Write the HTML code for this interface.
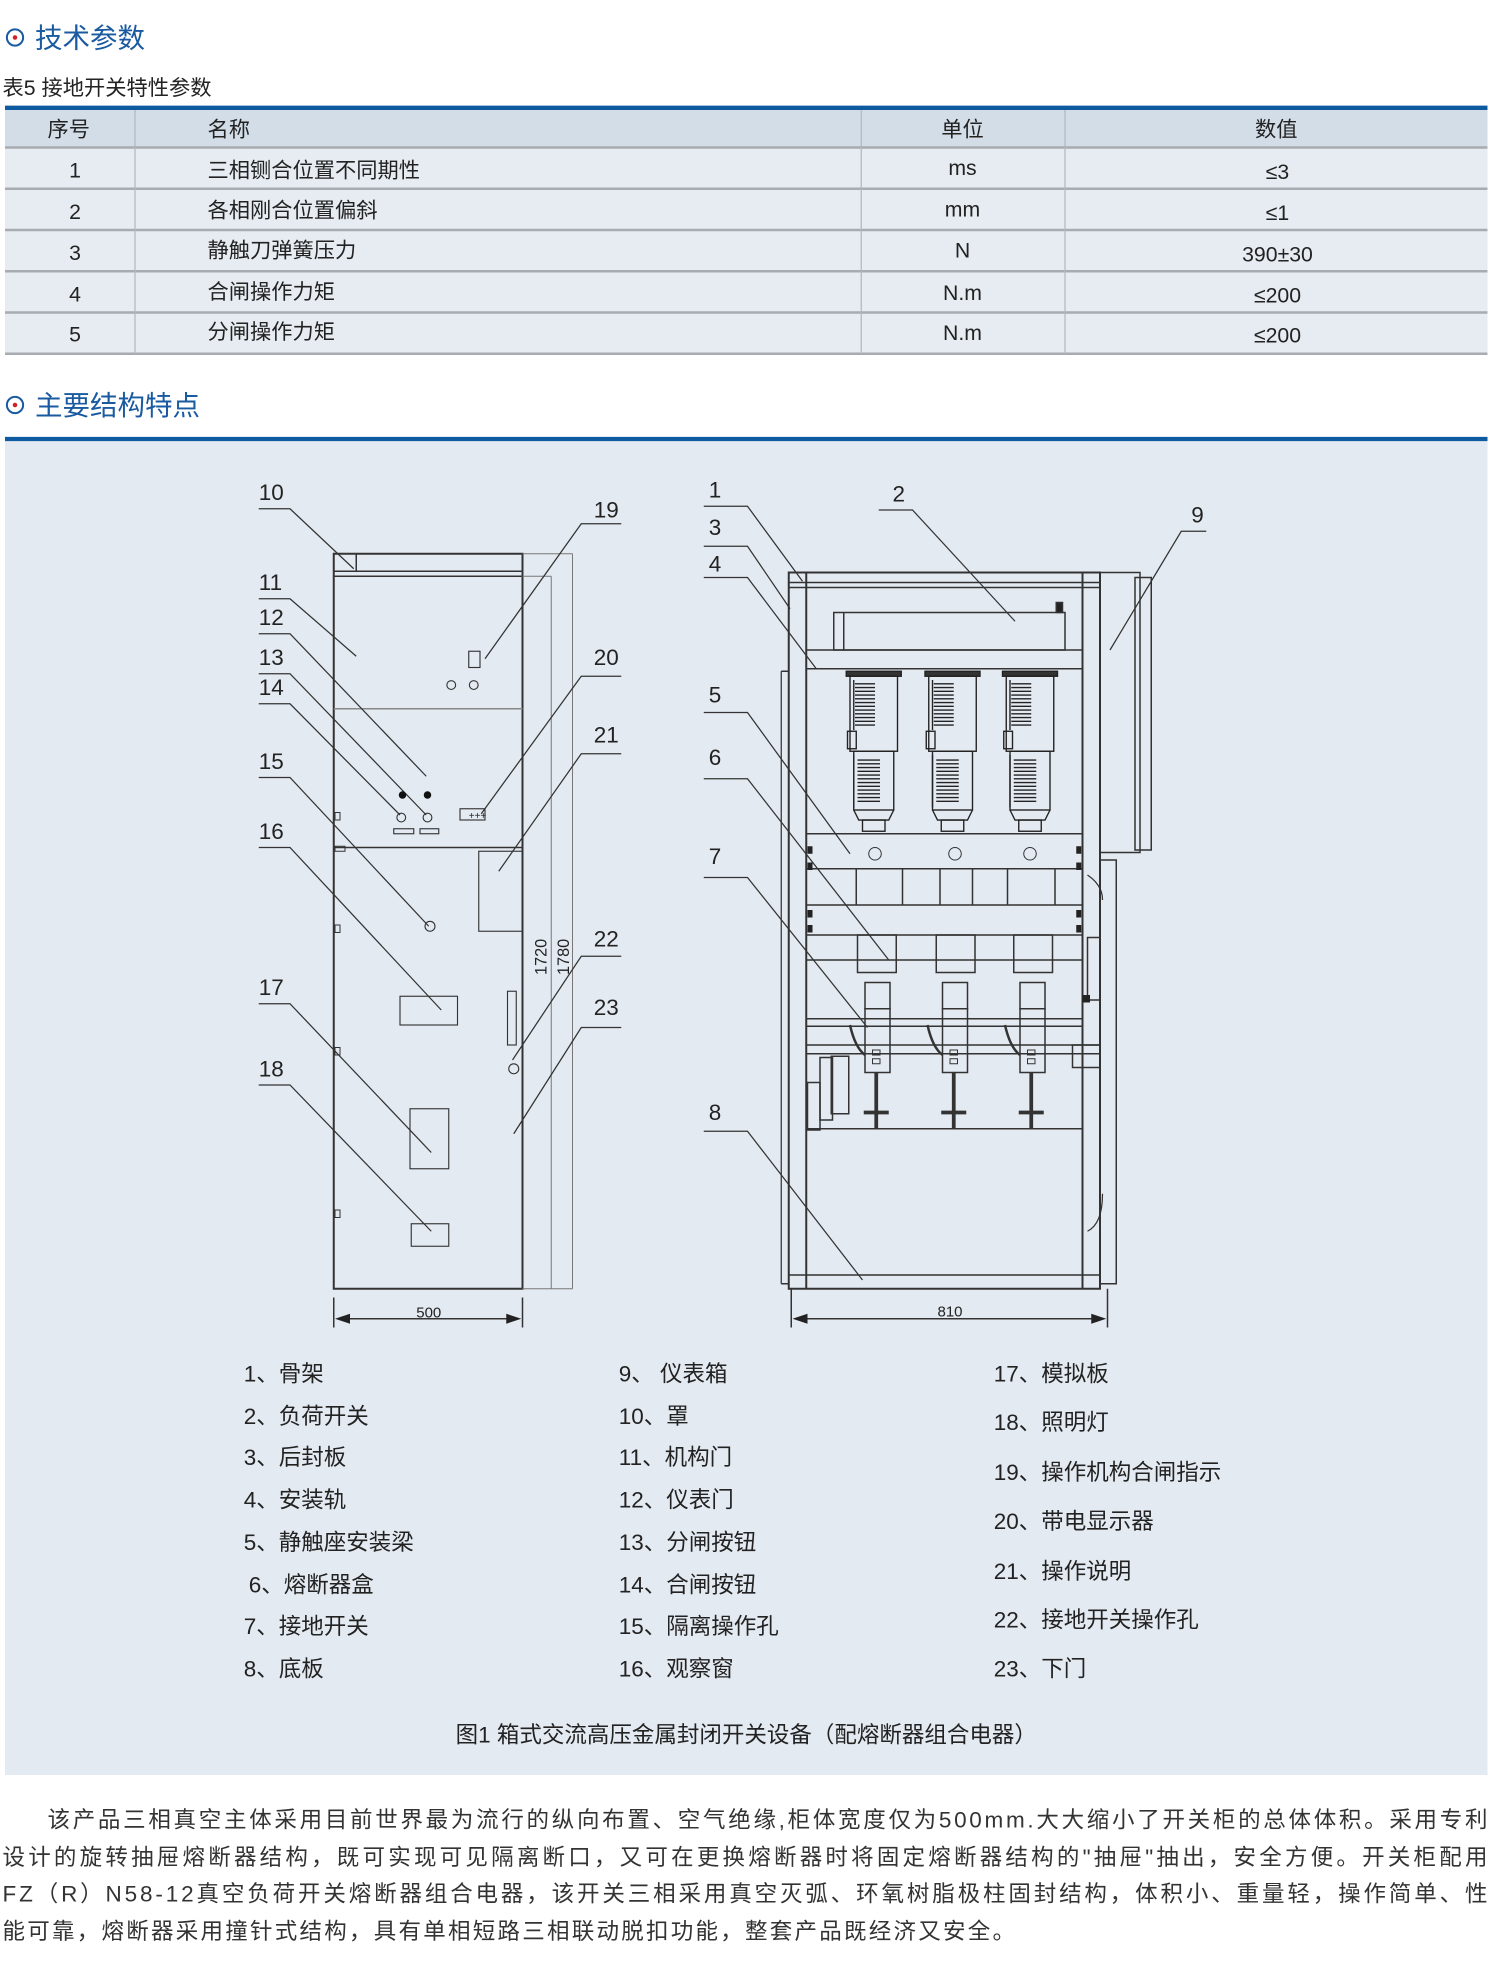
<!DOCTYPE html>
<html><head><meta charset="utf-8"><style>
html,body{margin:0;padding:0;background:#fff;}
svg{display:block;}
text{font-family:"Liberation Sans","Noto Sans CJK SC",sans-serif;}
</style></head><body>
<svg width="1500" height="1972" viewBox="0 0 1200 1577.6" xmlns="http://www.w3.org/2000/svg">
<rect width="1200" height="1578" fill="#fff"/>
<!-- titles -->
<circle cx="12" cy="30" r="6.5" fill="none" stroke="#1a5aa0" stroke-width="1.6"/><circle cx="12" cy="30" r="1.8" fill="#d02020"/>
<text x="28" y="38" font-size="22" fill="#1a5aa0">技术参数</text>
<text x="2" y="76" font-size="17" fill="#222">表5  接地开关特性参数</text>
<!-- table -->
<rect x="4" y="84.5" width="1186" height="3.5" fill="#0e5aa0"/>
<rect x="4" y="88" width="1186" height="30" fill="#d2dde7"/>
<rect x="4" y="118" width="1186" height="165" fill="#e6ecf2"/>
<g stroke="#a8acb0" stroke-width="2"><line x1="4" y1="118" x2="1190" y2="118"/><line x1="4" y1="151" x2="1190" y2="151"/><line x1="4" y1="184" x2="1190" y2="184"/><line x1="4" y1="217" x2="1190" y2="217"/><line x1="4" y1="250" x2="1190" y2="250"/><line x1="4" y1="283" x2="1190" y2="283"/></g>
<g stroke="#b4b8bc" stroke-width="1"><line x1="108" y1="88" x2="108" y2="283"/><line x1="689" y1="88" x2="689" y2="283"/><line x1="852" y1="88" x2="852" y2="283"/></g>
<g font-size="17" fill="#222">
<text x="55" y="109" text-anchor="middle">序号</text><text x="166" y="109">名称</text><text x="770" y="109" text-anchor="middle">单位</text><text x="1021" y="109" text-anchor="middle">数值</text>
<text x="60" y="142" text-anchor="middle">1</text><text x="166" y="142">三相铡合位置不同期性</text><text x="770" y="140" text-anchor="middle">ms</text><text x="1022" y="143" text-anchor="middle">≤3</text>
<text x="60" y="175" text-anchor="middle">2</text><text x="166" y="174">各相刚合位置偏斜</text><text x="770" y="173" text-anchor="middle">mm</text><text x="1022" y="176" text-anchor="middle">≤1</text>
<text x="60" y="208" text-anchor="middle">3</text><text x="166" y="206">静触刀弹簧压力</text><text x="770" y="206" text-anchor="middle">N</text><text x="1022" y="209" text-anchor="middle">390±30</text>
<text x="60" y="241" text-anchor="middle">4</text><text x="166" y="239">合闸操作力矩</text><text x="770" y="240" text-anchor="middle">N.m</text><text x="1022" y="242" text-anchor="middle">≤200</text>
<text x="60" y="273" text-anchor="middle">5</text><text x="166" y="271">分闸操作力矩</text><text x="770" y="272" text-anchor="middle">N.m</text><text x="1022" y="274" text-anchor="middle">≤200</text>
</g>
<circle cx="12" cy="324" r="6.5" fill="none" stroke="#1a5aa0" stroke-width="1.6"/><circle cx="12" cy="324" r="1.8" fill="#d02020"/>
<text x="28" y="332" font-size="22" fill="#1a5aa0">主要结构特点</text>
<rect x="4" y="349.5" width="1186" height="3.5" fill="#0e5aa0"/>
<!-- diagram panel -->
<rect x="4" y="353" width="1186" height="1067" fill="#e4eaf1"/>

<g fill="none" stroke="#333" stroke-width="1.2">
<!-- LEFT CABINET -->
<rect x="267" y="443" width="151" height="588" stroke-width="1.6"/>
<line x1="267" y1="457" x2="418" y2="457"/><line x1="267" y1="461" x2="418" y2="461"/>
<line x1="285" y1="443" x2="285" y2="457"/>
<line x1="267" y1="567" x2="418" y2="567" stroke="#888"/>
<line x1="267" y1="678" x2="418" y2="678"/>
<g stroke="#777" stroke-width="0.8">
<line x1="418" y1="443" x2="458" y2="443"/><line x1="418" y1="461" x2="441" y2="461"/>
<line x1="441" y1="461" x2="441" y2="1031"/><line x1="458" y1="443" x2="458" y2="1031"/>
<line x1="418" y1="1031" x2="458" y2="1031"/>
</g>
<g stroke-width="0.8"><rect x="268" y="650" width="4" height="6"/><rect x="268" y="740" width="4" height="6"/><rect x="268" y="838" width="4" height="6"/><rect x="268" y="968" width="4" height="6"/><rect x="268" y="677" width="8" height="4"/></g>
<rect x="375" y="521" width="9" height="13" stroke-width="0.9"/>
<circle cx="361" cy="548" r="3.5" stroke-width="0.9"/><circle cx="379" cy="548" r="3.5" stroke-width="0.9"/>
<circle cx="321" cy="654" r="3.5" stroke-width="0.9"/><circle cx="342" cy="654" r="3.5" stroke-width="0.9"/>
<rect x="315" y="663" width="16" height="4" stroke-width="0.9"/><rect x="336" y="663" width="15" height="4" stroke-width="0.9"/>
<rect x="368" y="647" width="20" height="9" stroke-width="0.9"/>
<rect x="383" y="681" width="35" height="64" stroke-width="0.9"/>
<circle cx="344" cy="741" r="4" stroke-width="0.9"/>
<rect x="320" y="797" width="46" height="23" stroke-width="0.9"/>
<rect x="406" y="793" width="7" height="43" stroke-width="0.9"/>
<circle cx="411" cy="855" r="4" stroke-width="0.9"/>
<rect x="328" y="887" width="31" height="48" stroke-width="0.9"/>
<rect x="329" y="979" width="30" height="18" stroke-width="0.9"/>
<!-- dim 500 -->
<line x1="267" y1="1038" x2="267" y2="1062"/><line x1="418" y1="1038" x2="418" y2="1062"/>
<line x1="272" y1="1055" x2="413" y2="1055"/>
<!-- leaders left -->
<g stroke-width="1">
<polyline points="207,407 232,407 283,455"/>
<polyline points="207,479 232,479 285,525"/>
<polyline points="207,507 232,507 341,621"/>
<polyline points="207,539 232,539 341,652"/>
<polyline points="207,563 232,563 320,652"/>
<polyline points="207,622 232,622 343,741"/>
<polyline points="207,678 232,678 353,808"/>
<polyline points="207,803 232,803 345,922"/>
<polyline points="207,868 232,868 345,985"/>
<polyline points="497,419 465,419 388,527"/>
<polyline points="497,541 465,541 385,651"/>
<polyline points="497,603 465,603 399,697"/>
<polyline points="497,765 465,765 410,848"/>
<polyline points="497,822 465,822 411,907"/>
</g>

<!-- RIGHT CABINET -->
<line x1="625" y1="537" x2="625" y2="1027" stroke-width="1"/>
<rect x="631" y="458" width="249" height="573" stroke-width="1.6"/>
<line x1="645" y1="458" x2="645" y2="1031" stroke-width="1.6"/>
<line x1="866" y1="458" x2="866" y2="1031" stroke-width="1.6"/>
<line x1="631" y1="466" x2="880" y2="466"/><line x1="631" y1="470" x2="880" y2="470"/>
<line x1="631" y1="1020" x2="880" y2="1020"/>
<line x1="625" y1="537" x2="631" y2="537"/><line x1="625" y1="1027" x2="631" y2="1027"/>
<!-- instrument box -->
<rect x="880" y="458" width="32" height="224"/>
<rect x="908" y="462" width="13" height="218"/>
<!-- lower door -->
<rect x="880" y="688" width="13" height="339"/>
<!-- load switch -->
<rect x="667" y="490" width="185" height="30"/>
<line x1="675" y1="490" x2="675" y2="520"/>
<rect x="845" y="482" width="5" height="8" fill="#222"/>
<rect x="645" y="520" width="221" height="15"/>
</g>
<!-- fuses -->
<g fill="none" stroke="#222" stroke-width="1.1">
<g id="fz">
<rect x="677" y="537" width="44" height="4" fill="#333"/>
<rect x="680" y="541" width="38" height="60"/>
<rect x="683" y="601" width="32" height="47"/>
<path d="M683 648 L687 656 L711 656 L715 648"/>
<rect x="690" y="656" width="18" height="9"/>
<rect x="678" y="585" width="7" height="14"/>
<path d="M683 544v40 M683 604v42" />
<path d="M684 547h16M684 550h16M684 553h16M684 556h16M684 559h16M684 562h16M684 565h16M684 568h16M684 571h16M684 574h16M684 577h16M684 580h16 M686 608h18M686 611h18M686 614h18M686 617h18M686 620h18M686 623h18M686 626h18M686 629h18M686 632h18M686 635h18M686 638h18M686 641h18"/>
</g>
<use href="#fz" x="63"/><use href="#fz" x="125"/>
</g>
<g fill="none" stroke="#333" stroke-width="1.2">
<rect x="645" y="667" width="221" height="28"/>
<circle cx="700" cy="683" r="5" stroke-width="0.8"/><circle cx="764" cy="683" r="5" stroke-width="0.8"/><circle cx="824" cy="683" r="5" stroke-width="0.8"/>
<line x1="645" y1="724" x2="866" y2="724"/>
<path d="M685 695v29M722 695v29M752 695v29M778 695v29M806 695v29M844 695v29"/>
<line x1="645" y1="748" x2="866" y2="748"/>
<line x1="645" y1="768" x2="866" y2="768"/>
<rect x="686" y="748" width="31" height="30"/><rect x="749" y="748" width="31" height="30"/><rect x="811" y="748" width="31" height="30"/>
<line x1="645" y1="815" x2="866" y2="815"/><line x1="645" y1="821" x2="866" y2="821"/>
<line x1="645" y1="836" x2="880" y2="836"/><line x1="645" y1="843" x2="880" y2="843"/>
<line x1="645" y1="903" x2="866" y2="903"/>
<g id="gs">
<rect x="692" y="786" width="20" height="21"/>
<rect x="692" y="807" width="20" height="51"/>
<rect x="698" y="840" width="6" height="4" stroke-width="0.8"/><rect x="698" y="847" width="6" height="4" stroke-width="0.8"/>
<path d="M680 820 q4 18 12 24" stroke-width="2"/>
<line x1="701" y1="858" x2="701" y2="903" stroke-width="3"/>
<line x1="691" y1="890" x2="711" y2="890" stroke-width="3"/>
</g>
<use href="#gs" x="62"/><use href="#gs" x="124"/>
<rect x="646" y="866" width="10" height="38"/><rect x="656" y="846" width="10" height="50"/><rect x="665" y="845" width="14" height="46"/>
<rect x="858" y="836" width="22" height="18"/>
<rect x="870" y="750" width="10" height="50"/>
<path d="M870 700 q12 8 12 20 M870 985 q12 -6 12 -30" stroke-width="1"/>
<g fill="#222" stroke="none"><rect x="646" y="677" width="4" height="6"/><rect x="646" y="690" width="4" height="6"/><rect x="861" y="677" width="4" height="6"/><rect x="861" y="690" width="4" height="6"/><rect x="646" y="728" width="4" height="6"/><rect x="646" y="740" width="4" height="6"/><rect x="861" y="728" width="4" height="6"/><rect x="861" y="740" width="4" height="6"/><rect x="866" y="796" width="6" height="6"/></g>
<!-- dim 810 -->
<line x1="633" y1="1031" x2="633" y2="1062"/><line x1="886" y1="1031" x2="886" y2="1062"/>
<line x1="638" y1="1055" x2="881" y2="1055"/>
<g stroke-width="1">
<polyline points="563,405 598,405 642,465"/>
<polyline points="563,437 598,437 632,487"/>
<polyline points="563,462 598,462 653,535"/>
<polyline points="703,408 730,408 812,497"/>
<polyline points="965,425 945,425 888,520"/>
<polyline points="563,570 598,570 680,683"/>
<polyline points="563,623 598,623 711,768"/>
<polyline points="563,702 598,702 694,822"/>
<polyline points="563,905 598,905 690,1024"/>
</g>
</g>
<!-- arrowheads -->
<g fill="#222">
<path d="M268 1055 l12 -4 v8z"/><path d="M417 1055 l-12 -4 v8z"/>
<path d="M634 1055 l12 -4 v8z"/><path d="M885 1055 l-12 -4 v8z"/>
</g>
<g fill="#222" font-size="12"><text x="343" y="1054" text-anchor="middle">500</text><text x="760" y="1053" text-anchor="middle">810</text>
<text transform="translate(437 780) rotate(-90)" font-size="13">1720</text><text transform="translate(455 780) rotate(-90)" font-size="13">1780</text>
<text x="375" y="655" font-size="8">+++</text></g>
<g fill="#222" font-size="18">
<text x="207" y="400">10</text><text x="207" y="472">11</text><text x="207" y="500">12</text><text x="207" y="532">13</text><text x="207" y="556">14</text><text x="207" y="615">15</text><text x="207" y="671">16</text><text x="207" y="796">17</text><text x="207" y="861">18</text>
<text x="475" y="414">19</text><text x="475" y="532">20</text><text x="475" y="594">21</text><text x="475" y="757">22</text><text x="475" y="812">23</text>
<text x="567" y="398">1</text><text x="567" y="428">3</text><text x="567" y="457">4</text><text x="714" y="401">2</text><text x="953" y="418">9</text>
<text x="567" y="562">5</text><text x="567" y="612">6</text><text x="567" y="691">7</text><text x="567" y="896">8</text>
</g>
<circle cx="322" cy="636" r="3" fill="#111"/><circle cx="342" cy="636" r="3" fill="#111"/>
<!-- legend -->
<g fill="#222" font-size="18">
<text x="195" y="1105">1、骨架</text><text x="195" y="1139">2、负荷开关</text><text x="195" y="1172">3、后封板</text><text x="195" y="1206">4、安装轨</text><text x="195" y="1240">5、静触座安装梁</text><text x="199" y="1274">6、熔断器盒</text><text x="195" y="1307">7、接地开关</text><text x="195" y="1341">8、底板</text>
<text x="495" y="1105">9、 仪表箱</text><text x="495" y="1139">10、罩</text><text x="495" y="1172">11、机构门</text><text x="495" y="1206">12、仪表门</text><text x="495" y="1240">13、分闸按钮</text><text x="495" y="1274">14、合闸按钮</text><text x="495" y="1307">15、隔离操作孔</text><text x="495" y="1341">16、观察窗</text>
<text x="795" y="1105">17、模拟板</text><text x="795" y="1144">18、照明灯</text><text x="795" y="1184">19、操作机构合闸指示</text><text x="795" y="1223">20、带电显示器</text><text x="795" y="1263">21、操作说明</text><text x="795" y="1302">22、接地开关操作孔</text><text x="795" y="1341">23、下门</text>
<text x="597" y="1394" text-anchor="middle">图1 箱式交流高压金属封闭开关设备（配熔断器组合电器）</text>
</g>
<!-- paragraph -->
<g fill="#333" font-size="18">
<text x="38" y="1462" textLength="1152" lengthAdjust="spacing">该产品三相真空主体采用目前世界最为流行的纵向布置、空气绝缘,柜体宽度仅为500mm.大大缩小了开关柜的总体体积。采用专利</text>
<text x="2" y="1492" textLength="1188" lengthAdjust="spacing">设计的旋转抽屉熔断器结构，既可实现可见隔离断口，又可在更换熔断器时将固定熔断器结构的"抽屉"抽出，安全方便。开关柜配用</text>
<text x="2" y="1521" textLength="1188" lengthAdjust="spacing">FZ（R）N58-12真空负荷开关熔断器组合电器，该开关三相采用真空灭弧、环氧树脂极柱固封结构，体积小、重量轻，操作简单、性</text>
<text x="2" y="1551" textLength="810" lengthAdjust="spacing">能可靠，熔断器采用撞针式结构，具有单相短路三相联动脱扣功能，整套产品既经济又安全。</text>
</g>
</svg>
</body></html>
